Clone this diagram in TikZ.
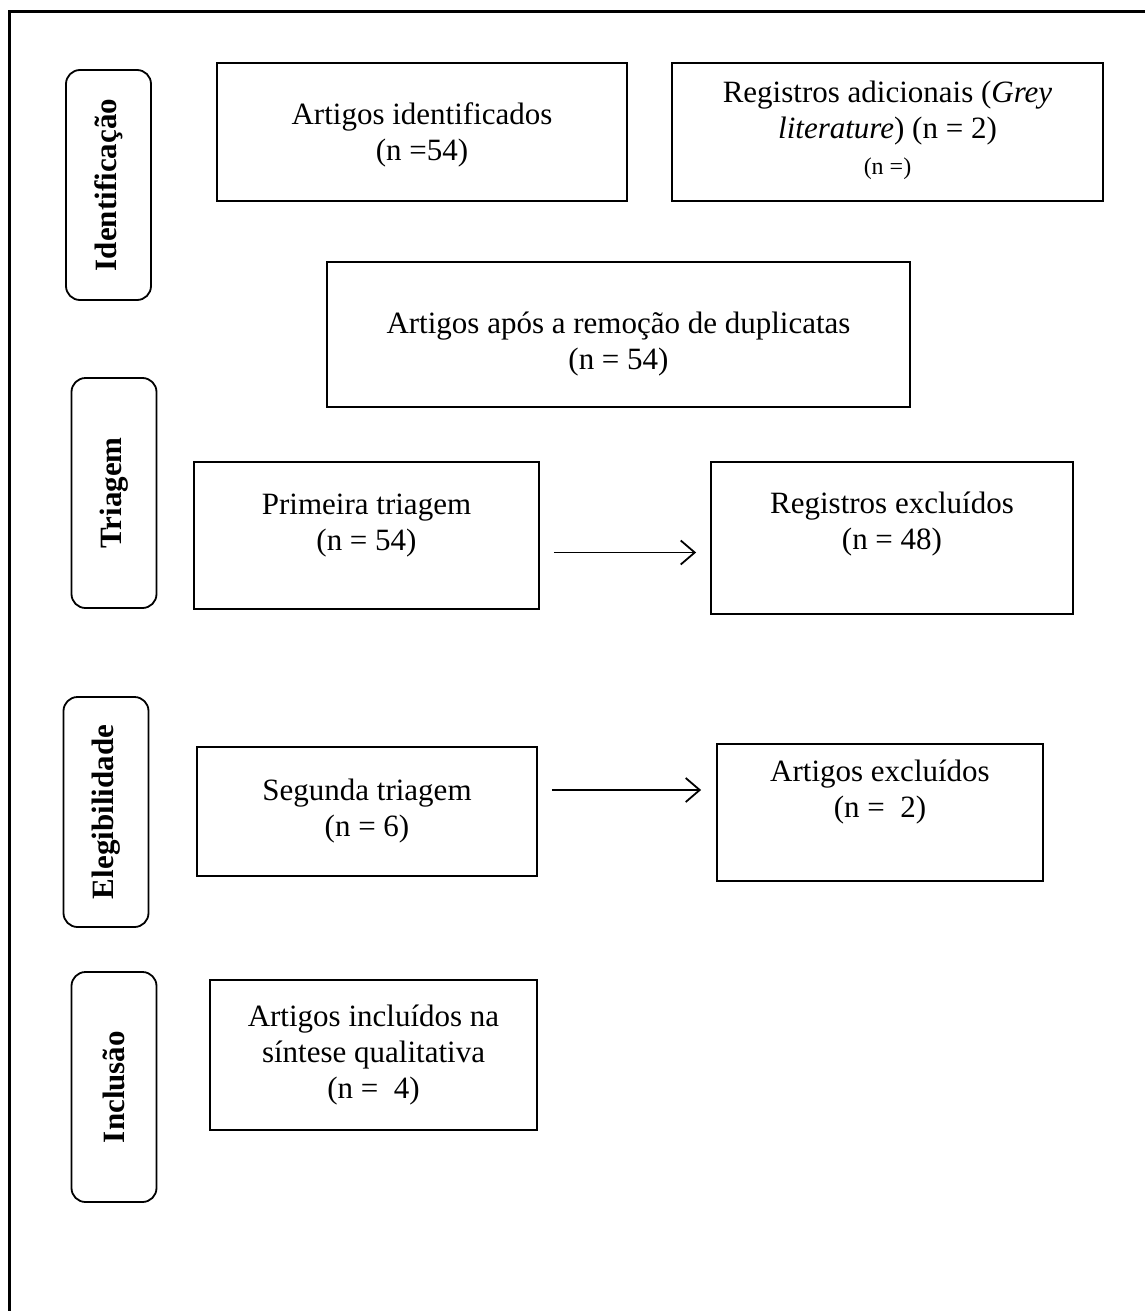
\documentclass[tikz,border=0pt]{standalone}
\usepackage{fontspec}
\setmainfont{Liberation Serif}
\usetikzlibrary{arrows.meta,calc}
\begin{document}
\begin{tikzpicture}[x=1pt,y=-1pt,
  box/.style={draw,line width=1.8pt,inner sep=0pt},
  txt/.style={align=center,inner sep=0pt,font=\fontsize{31}{36}\selectfont},
  side/.style={draw,line width=1.8pt,rounded corners=14pt,rotate=90,
    minimum width=230pt,minimum height=85pt,inner sep=0pt,
    font=\fontsize{31}{36}\selectfont\bfseries},
  arr/.style={line width=1.8pt,-{Straight Barb[length=14pt,width=24pt,line width=1.8pt]}}]
\useasboundingbox (0,0) rectangle (1145,1311);
\draw[line width=3pt] (1145,12) -- (9,12) -- (9,1311);
% side labels
\node[side] (sid) at (108.5,185) {Identificação};
\node[side] (str) at (114,493) {Triagem};
\node[side] (sel) at (106,812) {Elegibilidade};
\node[side] (sin) at (114,1087) {Inclusão};
% boxes
\node[box,minimum width=410pt,minimum height=138pt] (ident) at (422,132) {};
\node[txt] (identT) at ($(ident.center)+(0,3)$) {Artigos identificados\\(n =54)};
\node[box,minimum width=431pt,minimum height=138pt] (grey) at (887.5,132) {};
\node[txt] (greyT) at ($(grey.center)+(0,-2)$)
  {Registros adicionais (\textit{Grey}\\\textit{literature}) (n = 2)\\{\fontsize{24}{30}\selectfont (n =)}};
\node[box,minimum width=583pt,minimum height=145pt] (dup) at (618.5,334.5) {};
\node[txt] (dupT) at ($(dup.center)+(0,10)$) {Artigos após a remoção de duplicatas\\(n = 54)};
\node[box,minimum width=345pt,minimum height=147pt] (prim) at (366.5,535.5) {};
\node[txt] (primT) at ($(prim.center)+(0,-10)$) {Primeira triagem\\(n = 54)};
\node[box,minimum width=362pt,minimum height=152pt] (regexc) at (892,538) {};
\node[txt] (regexcT) at ($(regexc.center)+(0,-14)$) {Registros excluídos\\(n = 48)};
\node[box,minimum width=340pt,minimum height=129pt] (seg) at (367,811.5) {};
\node[txt] (segT) at ($(seg.center)+(0,0)$) {Segunda triagem\\(n = 6)};
\node[box,minimum width=326pt,minimum height=137pt] (artexc) at (880,812.5) {};
\node[txt] (artexcT) at ($(artexc.center)+(0,-20)$) {Artigos excluídos\\(n =\ \ 2)};
\node[box,minimum width=327pt,minimum height=150pt] (incl) at (373.5,1055) {};
\node[txt] (inclT) at ($(incl.center)+(0,0)$) {Artigos incluídos na\\síntese qualitativa\\(n =\ \ 4)};
% arrows
\draw[arr] ($(prim.east)+(14,17)$) -- ($(regexc.west |- prim.east)+(-14,17)$);
\draw[arr] ($(seg.east)+(14,-21.5)$) -- ($(artexc.west |- seg.east)+(-15,-21.5)$);
\end{tikzpicture}
\end{document}
